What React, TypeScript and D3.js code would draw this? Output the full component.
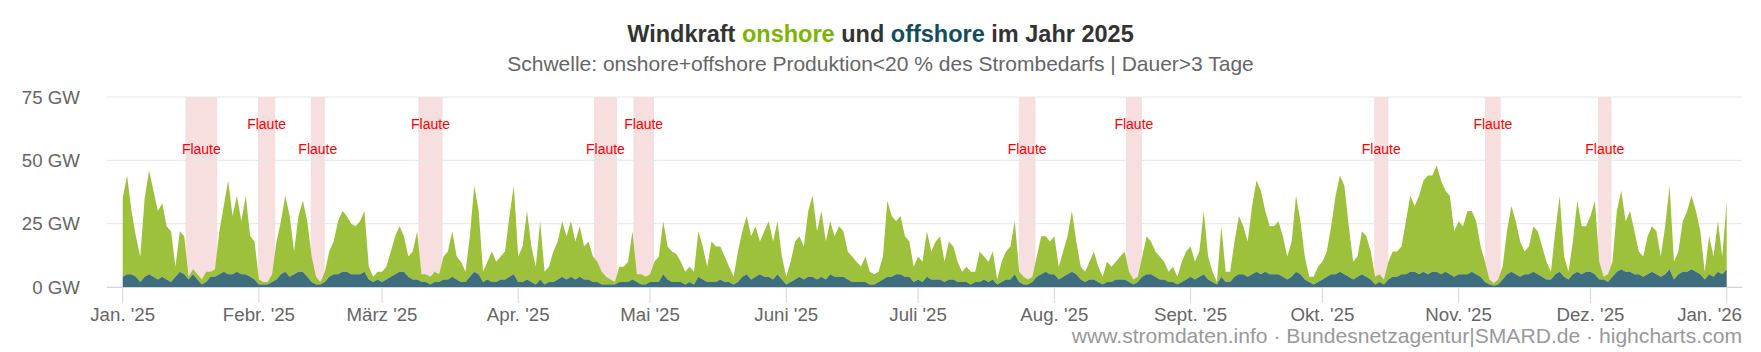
import * as d3 from "d3";

// Monatsbeschriftung der x-Achse
const monatsLabels = [
  "Jan. '25", "Febr. '25", "März '25", "Apr. '25", "Mai '25", "Juni '25",
  "Juli '25", "Aug. '25", "Sept. '25", "Okt. '25", "Nov. '25", "Dez. '25", "Jan. '26",
];

const yTicks = [0, 25, 50, 75];

// onshore + offshore zusammen, GW, ein Wert pro Tag (1.1.2025 ... 1.1.2026)
const gesamtGW = [
  // Jan
  35, 44, 30, 20, 12, 35, 46, 38, 30, 33, 24, 22, 8, 22, 20, 4, 7, 5, 3, 6, 6, 7, 22, 32, 42, 28, 36, 26, 36, 20, 18,
  // Feb
  3, 2, 2, 5, 18, 26, 36, 28, 14, 28, 34, 26, 12, 4, 2, 6, 14, 18, 26, 30, 28, 25, 24, 26, 30, 8, 4, 6,
  // Mär
  6, 8, 14, 20, 24, 20, 12, 14, 22, 5, 5, 4, 6, 5, 12, 14, 22, 12, 10, 6, 20, 40, 30, 6, 10, 14, 10, 12, 14, 28, 40,
  // Apr
  12, 16, 30, 16, 8, 26, 6, 8, 14, 18, 26, 20, 26, 18, 24, 16, 18, 12, 10, 6, 4, 3, 2, 8, 8, 10, 22, 5, 5, 4,
  // Mai
  5, 10, 12, 26, 16, 14, 13, 10, 6, 8, 6, 22, 16, 8, 18, 16, 16, 12, 8, 4, 14, 22, 28, 20, 24, 18, 22, 26, 18, 26, 12,
  // Jun
  4, 10, 18, 20, 16, 30, 36, 22, 30, 18, 26, 20, 24, 22, 14, 12, 10, 8, 12, 6, 5, 6, 12, 34, 28, 26, 28, 20, 18, 8,
  // Jul
  12, 10, 22, 14, 18, 20, 10, 18, 16, 10, 6, 8, 6, 6, 14, 12, 10, 14, 3, 10, 14, 16, 26, 6, 4, 3, 4, 12, 20, 20, 18,
  // Aug
  20, 8, 14, 20, 30, 18, 8, 6, 10, 14, 8, 4, 10, 8, 10, 12, 14, 6, 3, 4, 12, 20, 18, 14, 12, 10, 6, 8, 4, 10, 14,
  // Sep
  16, 10, 14, 30, 12, 6, 2, 24, 6, 6, 18, 28, 24, 18, 32, 42, 38, 30, 24, 24, 26, 20, 12, 18, 36, 26, 12, 4, 4, 8,
  // Okt
  10, 14, 24, 36, 44, 40, 24, 10, 12, 22, 20, 14, 4, 5, 3, 10, 14, 14, 16, 26, 36, 32, 36, 42, 44, 44, 48, 42, 38, 36, 22,
  // Nov
  26, 24, 30, 30, 26, 16, 10, 3, 1.5, 3, 8, 22, 32, 26, 18, 14, 16, 24, 22, 16, 10, 6, 22, 36, 12, 6, 18, 34, 24, 24,
  // Dez
  28, 34, 10, 4, 5, 10, 30, 38, 26, 30, 22, 14, 12, 20, 24, 22, 12, 24, 40, 10, 14, 26, 30, 36, 30, 22, 6, 20, 12, 26, 12,
  // 1.1.2026
  34,
];

// davon offshore, GW
const offshoreGW = [
  // Jan
  4, 5, 5, 4, 2, 4, 5, 4, 3, 4, 3, 2, 4, 6, 5, 3, 5, 3, 1, 2, 4, 4, 5, 6, 5, 5, 6, 5, 5, 4, 3,
  // Feb
  1, 1, 1, 2, 3, 5, 6, 4, 5, 6, 6, 4, 2, 1, 1, 2, 4, 5, 5, 6, 6, 5, 5, 5, 6, 3, 2, 3,
  // Mär
  2, 3, 4, 5, 6, 6, 4, 3, 3, 2, 2, 1, 2, 2, 3, 3, 4, 3, 2, 2, 4, 6, 5, 2, 3, 2, 2, 3, 3, 4, 5,
  // Apr
  2, 2, 3, 2, 1, 3, 1, 2, 2, 3, 4, 3, 4, 3, 4, 3, 3, 2, 2, 1, 1, 1, 1, 2, 2, 2, 3, 2, 1, 1,
  // Mai
  2, 2, 2, 5, 3, 2, 2, 2, 1, 2, 1, 4, 3, 2, 2, 2, 3, 2, 2, 1, 2, 4, 5, 3, 4, 5, 4, 4, 3, 5, 3,
  // Jun
  1, 2, 3, 4, 3, 4, 4, 3, 4, 3, 5, 4, 4, 4, 3, 2, 2, 2, 2, 1, 1, 2, 3, 4, 4, 5, 5, 4, 4, 2,
  // Jul
  3, 2, 4, 3, 3, 3, 2, 3, 3, 2, 2, 2, 1, 2, 2, 3, 2, 3, 1, 2, 3, 3, 5, 2, 1, 1, 2, 4, 5, 6, 5,
  // Aug
  5, 3, 4, 5, 6, 5, 3, 2, 3, 3, 2, 1, 2, 2, 3, 3, 3, 2, 1, 2, 4, 5, 5, 4, 3, 3, 2, 2, 1, 2, 3,
  // Sep
  4, 3, 4, 5, 3, 2, 1, 4, 2, 2, 4, 5, 5, 4, 5, 6, 5, 6, 5, 5, 5, 4, 3, 4, 6, 5, 3, 2, 1, 2,
  // Okt
  3, 4, 5, 5, 6, 5, 4, 3, 4, 5, 4, 3, 1, 2, 1, 3, 4, 4, 5, 5, 6, 6, 5, 6, 5, 6, 6, 5, 6, 5, 4,
  // Nov
  5, 5, 5, 6, 5, 4, 2, 1, 0.5, 1, 3, 5, 6, 5, 4, 5, 5, 6, 5, 4, 3, 3, 5, 6, 4, 3, 5, 6, 5, 6,
  // Dez
  6, 5, 3, 3, 2, 4, 6, 7, 6, 6, 5, 5, 4, 5, 6, 5, 4, 5, 7, 3, 5, 6, 6, 7, 6, 5, 3, 5, 4, 6, 5,
  // 1.1.2026
  7,
];

// Flauten: onshore+offshore < 20 % des Strombedarfs länger als 3 Tage
const flautenStart = [
  "2025-01-15T07:00Z", "2025-01-31T19:00Z", "2025-02-12T19:00Z", "2025-03-09T07:00Z",
  "2025-04-18T05:00Z", "2025-04-27T05:00Z", "2025-07-23T22:00Z", "2025-08-17T07:00Z",
  "2025-10-12T19:00Z", "2025-11-07T00:00Z", "2025-12-02T17:00Z",
];
const flautenEnde = [
  "2025-01-22T12:00Z", "2025-02-04T17:00Z", "2025-02-16T00:00Z", "2025-03-14T19:00Z",
  "2025-04-23T12:00Z", "2025-05-01T22:00Z", "2025-07-27T17:00Z", "2025-08-20T22:00Z",
  "2025-10-16T00:00Z", "2025-11-10T14:00Z", "2025-12-05T19:00Z",
];

const FONT = "'Liberation Sans', Arial, Helvetica, sans-serif";

export default function App() {
  const width = 1761;
  const height = 352;
  const plotLeft = 107;
  const plotRight = 1742;

  const start = new Date(Date.UTC(2025, 0, 1));
  const end = new Date(Date.UTC(2026, 0, 1));

  const x = d3.scaleUtc().domain([start, end]).range([122.7, 1726.7]);
  const y = d3.scaleLinear().domain([0, 75]).range([287, 97]);

  const rows = gesamtGW.map((g, i) => ({
    date: d3.utcDay.offset(start, i),
    off: Math.min(offshoreGW[i], g),
    total: g,
  }));

  const offshoreArea = d3
    .area<(typeof rows)[number]>()
    .x((d) => x(d.date))
    .y0(y(0))
    .y1((d) => y(d.off));

  const onshoreArea = d3
    .area<(typeof rows)[number]>()
    .x((d) => x(d.date))
    .y0((d) => y(d.off))
    .y1((d) => y(d.total));

  const months = d3.utcMonth.range(start, d3.utcMonth.offset(end, 1));

  return (
    <svg
      width={width}
      height={height}
      style={{ position: "absolute", left: 0, top: 0, background: "#fff" }}
      fontFamily={FONT}
    >
      {/* Titel */}
      <text x={width / 2} y={41.5} textAnchor="middle" fontSize={23.5} fontWeight="bold" fill="#333">
        Windkraft <tspan fill="#7cb305">onshore</tspan> und <tspan fill="#104e5f">offshore</tspan> im Jahr 2025
      </text>
      <text x={width / 2} y={71} textAnchor="middle" fontSize={21} fill="#666">
        Schwelle: onshore+offshore Produktion&lt;20 % des Strombedarfs | Dauer&gt;3 Tage
      </text>

      {/* Flaute-Bänder */}
      {flautenStart.map((s, i) => {
        const x0 = x(new Date(s));
        const x1 = x(new Date(flautenEnde[i]));
        return (
          <rect key={"b" + i} x={x0} y={y(75)} width={x1 - x0} height={y(0) - y(75)} fill="#f7dfdf" />
        );
      })}

      {/* Gitter */}
      {yTicks.map((t) => (
        <line key={"g" + t} x1={plotLeft} x2={plotRight} y1={y(t)} y2={y(t)} stroke="#e6e6e6" strokeWidth={1} />
      ))}

      {/* Flächen */}
      <path d={onshoreArea(rows) ?? ""} fill="#9dc13b" />
      <path d={offshoreArea(rows) ?? ""} fill="#3e6d7e" />

      {/* Flaute-Beschriftung */}
      {flautenStart.map((s, i) => {
        const xm = (x(new Date(s)) + x(new Date(flautenEnde[i]))) / 2;
        return (
          <text key={"l" + i} x={xm} y={i % 2 === 0 ? 154 : 129} textAnchor="middle" fontSize={14} fill="#ff0000">
            Flaute
          </text>
        );
      })}

      {/* Achsen */}
      <line x1={plotLeft} x2={plotRight} y1={y(0) + 0.5} y2={y(0) + 0.5} stroke="#ccd6eb" strokeWidth={1} />
      {yTicks.map((t) => (
        <text key={"y" + t} x={80} y={y(t)} dy="0.35em" textAnchor="end" fontSize={18.7} fill="#666">
          {t} GW
        </text>
      ))}
      {months.map((m, i) => {
        const xm = x(m);
        const last = i === months.length - 1;
        return (
          <g key={"m" + i}>
            <line x1={xm} x2={xm} y1={y(0)} y2={y(0) + 16} stroke="#ccd6eb" strokeWidth={1} />
            <text
              x={last ? plotRight : xm}
              y={321}
              textAnchor={last ? "end" : "middle"}
              fontSize={18.7}
              fill="#666"
            >
              {monatsLabels[i]}
            </text>
          </g>
        );
      })}

      {/* Quellen */}
      <text x={plotRight} y={343} textAnchor="end" fontSize={21.1} fill="#999">
        www.stromdaten.info · Bundesnetzagentur|SMARD.de · highcharts.com
      </text>
    </svg>
  );
}
